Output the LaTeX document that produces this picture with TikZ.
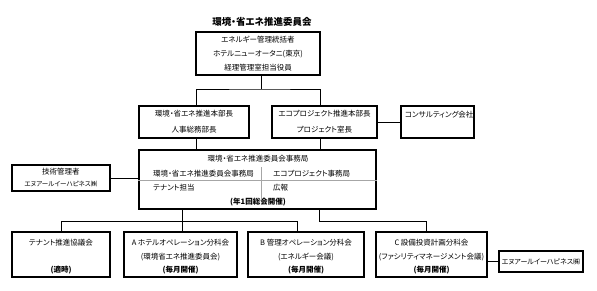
\documentclass[tikz,border=0pt]{standalone}
\usepackage{fontspec}
\setmainfont{Noto Sans CJK JP}[RawFeature=+palt]
\usetikzlibrary{positioning,calc}

\begin{document}
\begin{tikzpicture}[
    x=1pt, y=-1pt,
    box/.style={rectangle, draw, line width=1.1pt, align=center, inner sep=0pt, font=\fontsize{7.5}{14}\selectfont},
    wide/.style={font=\fontsize{7.5}{16}\selectfont},
    note/.style={inner sep=0pt, font=\fontsize{7.5}{9}\selectfont},
    bnote/.style={inner sep=0pt, font=\fontsize{7.5}{9}\selectfont\bfseries},
    link/.style={line width=0.8pt},
    rule/.style={draw=black!35, line width=0.6pt}
]
\useasboundingbox (0,0) rectangle (597,290);

% Title
\node[font=\fontsize{9.5}{11}\selectfont\bfseries] (title) at (262,22) {環境・省エネ推進委員会};

% Top management
\node[box, minimum width=124pt, minimum height=43pt] (mgr) at (258,53.5) {エネルギー管理統括者\\ホテルニューオータニ(東京)\\経理管理室担当役員};

% Headquarters
\node[box, wide, minimum width=110pt, minimum height=32pt] (honbu) at (194,122) {環境・省エネ推進本部長\\人事総務部長};
\node[box, wide, minimum width=105pt, minimum height=32pt] (eco) at (324.5,122) {エコプロジェクト推進本部長\\プロジェクト室長};
\node[box, wide, minimum height=32pt, text width=65pt, align=left, inner xsep=4pt] (consult) at (437.5,122) {コンサルティング会社\\\mbox{}};

% Secretariat
\node[box, minimum width=237pt, minimum height=59pt] (jimu) at (257.5,179.5) {};
\node[note] (jimu-title) at (258,159) {環境・省エネ推進委員会事務局};
\node[note, anchor=west] (jimu-l1) at (153,174) {環境・省エネ推進委員会事務局};
\node[note, anchor=west] (jimu-r1) at (273,174) {エコプロジェクト事務局};
\node[note, anchor=west] (jimu-l2) at (153,188) {テナント担当};
\node[note, anchor=west] (jimu-r2) at (273,188) {広報};
\node[bnote] (jimu-meet) at (258,202) {(年1回総会開催)};
\draw[rule] (jimu.west |- 0,180) -- (jimu.east |- 0,180);
\draw[rule] (261,167) -- (261,200);

% Engineering
\node[box, minimum width=98pt, minimum height=26pt, font=\fontsize{7.5}{12}\selectfont] (gijutsu) at (61,178) {技術管理者\\{\fontsize{6.5}{12}\selectfont エヌアールイーハピネス㈱}};

% Subcommittees
\node[box, minimum width=98pt, minimum height=45pt] (tenant) at (61,254.5) {};
\node[box, minimum width=113pt, minimum height=45pt] (bunkaA) at (180.5,254.5) {};
\node[box, minimum width=116pt, minimum height=45pt] (bunkaB) at (306,254.5) {};
\node[box, minimum width=111pt, minimum height=45pt] (bunkaC) at (431.5,254.5) {};
\node[box, minimum width=84pt, minimum height=21pt, font=\fontsize{7}{9}\selectfont] (nre) at (541,261.5) {エヌアールイーハピネス㈱};

\node[note] (tenant-1) at ($(tenant.north)+(0,11)$) {テナント推進協議会};
\node[bnote] (tenant-3) at ($(tenant.north)+(0,39)$) {(適時)};

\node[note] (bunkaA-1) at ($(bunkaA.north)+(0,11)$) {A ホテルオペレーション分科会};
\node[note] (bunkaA-2) at ($(bunkaA.north)+(0,26)$) {(環境省エネ推進委員会)};
\node[bnote] (bunkaA-3) at ($(bunkaA.north)+(0,39)$) {(毎月開催)};

\node[note] (bunkaB-1) at ($(bunkaB.north)+(0,11)$) {B 管理オペレーション分科会};
\node[note] (bunkaB-2) at ($(bunkaB.north)+(0,26)$) {(エネルギー会議)};
\node[bnote] (bunkaB-3) at ($(bunkaB.north)+(0,39)$) {(毎月開催)};

\node[note] (bunkaC-1) at ($(bunkaC.north)+(0,11)$) {C 設備投資計画分科会};
\node[note] (bunkaC-2) at ($(bunkaC.north)+(0,26)$) {(ファシリティマネージメント会議)};
\node[bnote] (bunkaC-3) at ($(bunkaC.north)+(0,39)$) {(毎月開催)};

% Connectors
\coordinate (busT) at (261,89);
\coordinate (splitA) at (182,221);
\coordinate (splitC) at (319,221);
\coordinate (busL) at (297,221);

\draw[link] (busT |- mgr.south) -- (busT);
\draw[link] ([xshift=2pt]honbu.north) |- (busT) -| ([xshift=-4.5pt]eco.north);
\draw[link] (eco.east) -- (consult.west);
\draw[link] ([xshift=2pt]honbu.south) -- ([xshift=2pt]honbu.south |- jimu.north);
\draw[link] ([xshift=-4.5pt]eco.south) -- ([xshift=-4.5pt]eco.south |- jimu.north);
\draw[link] (gijutsu.east) -- (gijutsu.east -| jimu.west);

\draw[link] (splitA |- jimu.south) -- (splitA |- bunkaA.north);
\draw[link] (tenant.north) |- (busL) -- (busL |- bunkaB.north);
\draw[link] (splitC |- jimu.south) -- (splitC) -| ([xshift=-5.5pt]bunkaC.north);
\draw[link] (bunkaC.east |- nre.west) -- (nre.west);

\end{tikzpicture}
\end{document}
